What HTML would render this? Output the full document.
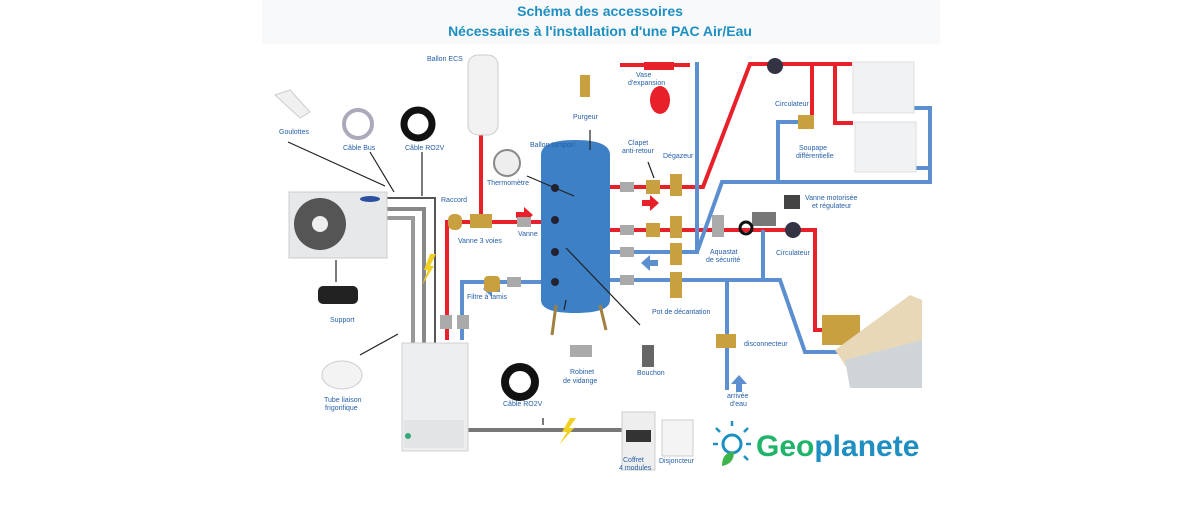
<!DOCTYPE html>
<html><head><meta charset="utf-8"><style>
html,body{margin:0;padding:0;background:#fff;}
svg{display:block;}
text{font-family:"Liberation Sans",sans-serif;}
.l{font-size:7px;fill:#2660a8;}
</style></head><body>
<svg width="1200" height="514" viewBox="0 0 1200 514" xmlns="http://www.w3.org/2000/svg">
<rect x="262" y="0" width="678" height="44" fill="#f7f9fa"/>
<text x="600" y="16" text-anchor="middle" font-size="14" font-weight="bold" fill="#1e8fc0">Schéma des accessoires</text>
<text x="600" y="36" text-anchor="middle" font-size="14" font-weight="bold" fill="#1e8fc0">Nécessaires à l'installation d'une PAC Air/Eau</text>

<!-- gray refrigerant pipes -->
<g fill="none" stroke-linejoin="miter">
<path d="M386 198 H435 V345" stroke="#555" stroke-width="2"/>
<path d="M386 209 H424 V345" stroke="#888" stroke-width="4"/>
<path d="M386 218 H413 V345" stroke="#999" stroke-width="4"/>
<path d="M467 430 H622" stroke="#777" stroke-width="4"/>
</g>
<!-- red pipes -->
<g fill="none" stroke="#e8202a" stroke-width="4">
<path d="M481 132 V222"/>
<path d="M447 340 V222 H541"/>
<path d="M610 187 H703 L750 64 H852"/>
<path d="M812 64 V122"/>
<path d="M835 64 V123 H853"/>
<path d="M610 230 H815 V330 H832"/>
<path d="M610 220 H700" stroke-width="0"/>
<path d="M620 65 H690"/>
</g>
<!-- blue pipes -->
<g fill="none" stroke="#5b8fd0" stroke-width="4">
<path d="M462 340 V282 H541"/>
<path d="M697 62 V252 H610"/>
<path d="M697 252 L722 182 H930 V108 H914"/>
<path d="M930 168 H916"/>
<path d="M778 182 V122 H800"/>
<path d="M610 280 H780 L805 352 H840"/>
<path d="M727 280 V390"/>
<path d="M763 230 V280"/>
</g>
<!-- arrows -->
<g fill="#e8202a"><path d="M516 212 h8 v-5 l9 8 l-9 8 v-5 h-8z"/><path d="M642 200 h8 v-5 l9 8 l-9 8 v-5 h-8z"/></g>
<g fill="#5b8fd0"><path d="M500 292 h-8 v5 l-9 -8 l9 -8 v5 h8z"/><path d="M658 266 h-8 v5 l-9 -8 l9 -8 v5 h8z"/><path d="M736 392 v-8 h-5 l8 -9 l8 9 h-5 v8z"/></g>

<!-- outdoor unit -->
<rect x="289" y="192" width="98" height="66" fill="#e6e8ea" stroke="#ccc"/>
<circle cx="320" cy="224" r="26" fill="#555"/><circle cx="320" cy="224" r="8" fill="#eee"/>
<ellipse cx="370" cy="199" rx="10" ry="3" fill="#2d4fa0"/>
<!-- indoor unit -->
<rect x="402" y="343" width="66" height="108" fill="#eceeef" stroke="#d0d0d0"/>
<rect x="404" y="420" width="60" height="28" fill="#e2e4e6"/>
<circle cx="408" cy="436" r="3" fill="#3a7"/>
<!-- accessories left -->
<path d="M275 95 L290 90 L310 112 L300 118z" fill="#f0f0f0" stroke="#ccc"/>
<circle cx="358" cy="124" r="14" fill="none" stroke="#aab" stroke-width="4"/>
<circle cx="418" cy="124" r="14" fill="none" stroke="#111" stroke-width="7"/>
<rect x="318" y="286" width="40" height="18" rx="5" fill="#222"/>
<ellipse cx="342" cy="375" rx="20" ry="14" fill="#f3f3f3" stroke="#ccc"/>
<circle cx="520" cy="382" r="15" fill="none" stroke="#111" stroke-width="8"/>
<!-- ECS -->
<rect x="468" y="55" width="30" height="80" rx="10" fill="#f2f2f2" stroke="#ccc"/>
<!-- tank -->
<path d="M541 155 Q541 140 575 140 Q610 140 610 155 V300 Q610 313 575 313 Q541 313 541 300z" fill="#3d80c6"/>
<path d="M556 305 L552 335 M600 305 L606 330" stroke="#a08040" stroke-width="3"/>
<circle cx="555" cy="188" r="4" fill="#223"/><circle cx="555" cy="220" r="4" fill="#223"/><circle cx="555" cy="252" r="4" fill="#223"/><circle cx="555" cy="282" r="4" fill="#223"/>
<circle cx="507" cy="163" r="13" fill="#eee" stroke="#888" stroke-width="2"/>
<!-- brass fittings -->
<g fill="#c8a040">
<rect x="580" y="75" width="10" height="22"/><rect x="470" y="214" width="22" height="14"/><rect x="448" y="214" width="14" height="16" rx="6"/>
<rect x="484" y="276" width="16" height="16" rx="4"/>
<rect x="646" y="180" width="14" height="14"/><rect x="670" y="174" width="12" height="22"/>
<rect x="646" y="223" width="14" height="14"/><rect x="670" y="216" width="12" height="22"/>
<rect x="670" y="243" width="12" height="22"/><rect x="670" y="272" width="12" height="26"/>
<rect x="716" y="334" width="20" height="14"/><rect x="798" y="115" width="16" height="14"/>
<rect x="822" y="315" width="38" height="30"/>
</g>
<g fill="#aaa">
<rect x="620" y="182" width="14" height="10"/><rect x="620" y="225" width="14" height="10"/><rect x="620" y="247" width="14" height="10"/><rect x="620" y="275" width="14" height="10"/>
<rect x="517" y="217" width="14" height="10"/><rect x="507" y="277" width="14" height="10"/>
<rect x="440" y="315" width="12" height="14"/><rect x="457" y="315" width="12" height="14"/>
<rect x="570" y="345" width="22" height="12"/><rect x="642" y="345" width="12" height="22" fill="#666"/>
<rect x="712" y="215" width="12" height="22"/><rect x="752" y="212" width="24" height="14" fill="#777"/>
<rect x="784" y="195" width="16" height="14" fill="#444"/>
</g>
<ellipse cx="660" cy="100" rx="10" ry="14" fill="#e8202a"/>
<rect x="644" y="62" width="30" height="8" fill="#e8202a"/>
<circle cx="775" cy="66" r="8" fill="#334"/><circle cx="793" cy="230" r="8" fill="#334"/>
<circle cx="746" cy="228" r="6" fill="none" stroke="#111" stroke-width="3"/>
<!-- radiators -->
<rect x="853" y="62" width="61" height="51" fill="#f1f2f3" stroke="#ddd"/>
<rect x="855" y="122" width="61" height="50" fill="#f1f2f3" stroke="#ddd"/>
<!-- floor -->
<path d="M835 350 L910 295 L922 300 L922 388 L860 388 Z" fill="#e8d8b8"/>
<path d="M845 360 L922 340 L922 388 L850 388Z" fill="#cfd4d8"/>
<!-- bolts -->
<path d="M430 254 L424 270 L428 270 L422 285 L434 266 L430 266 L436 254z" fill="#f0d020"/>
<path d="M570 418 L562 432 L567 432 L559 445 L574 428 L569 428 L576 418z" fill="#f0d020"/>
<!-- coffret -->
<rect x="622" y="412" width="33" height="58" fill="#eee" stroke="#ccc"/>
<rect x="626" y="430" width="25" height="12" fill="#333"/>
<rect x="662" y="420" width="31" height="36" fill="#f4f4f4" stroke="#ccc"/>
<!-- arrows black -->
<g stroke="#222" stroke-width="1.2">
<path d="M288 142 L385 186"/><path d="M370 152 L394 192"/><path d="M422 152 L422 196"/>
<path d="M590 130 V150"/><path d="M527 176 L574 196"/><path d="M648 162 L654 178"/>
<path d="M336 260 V282"/><path d="M360 355 L398 334"/><path d="M564 310 L566 300"/>
<path d="M640 325 L566 248"/><path d="M543 418 V425"/>
</g>
<!-- logo -->
<circle cx="732" cy="444" r="9" fill="none" stroke="#1e8fc0" stroke-width="3"/>
<g stroke="#1e8fc0" stroke-width="2.5"><path d="M732 426v-5M718 444h-5M746 444h5M720 432l-4-4M744 432l4-4M744 456l4 4"/></g>
<path d="M722 466 Q722 452 734 452 Q734 464 722 466z" fill="#3db44a"/>
<text x="756" y="456" font-size="30" font-weight="bold" fill="#20b36a">Geo<tspan fill="#1e8fc0">planete</tspan></text>
<!-- labels -->
<g class="l">
<text x="427" y="61">Ballon ECS</text>
<text x="573" y="119">Purgeur</text>
<text x="636" y="77">Vase</text><text x="628" y="85">d'expansion</text>
<text x="775" y="106">Circulateur</text>
<text x="799" y="150">Soupape</text><text x="796" y="158">différentielle</text>
<text x="279" y="134">Goulottes</text>
<text x="343" y="150">Câble Bus</text>
<text x="405" y="150">Câble RO2V</text>
<text x="530" y="147">Ballon tampon</text>
<text x="628" y="145">Clapet</text><text x="622" y="153">anti-retour</text>
<text x="663" y="158">Dégazeur</text>
<text x="487" y="185">Thermomètre</text>
<text x="441" y="202">Raccord</text>
<text x="805" y="200">Vanne motorisée</text><text x="812" y="208">et régulateur</text>
<text x="458" y="243">Vanne 3 voies</text>
<text x="518" y="236">Vanne</text>
<text x="710" y="254">Aquastat</text><text x="706" y="262">de sécurité</text>
<text x="776" y="255">Circulateur</text>
<text x="467" y="299">Filtre à tamis</text>
<text x="330" y="322">Support</text>
<text x="652" y="314">Pot de décantation</text>
<text x="744" y="346">disconnecteur</text>
<text x="570" y="374">Robinet</text><text x="563" y="383">de vidange</text>
<text x="637" y="375">Bouchon</text>
<text x="324" y="402">Tube liaison</text><text x="325" y="410">frigorifique</text>
<text x="503" y="406">Câble RO2V</text>
<text x="727" y="398">arrivée</text><text x="730" y="406">d'eau</text>
<text x="623" y="462">Coffret</text><text x="619" y="470">4 modules</text>
<text x="659" y="463">Disjoncteur</text>
</g>
</svg>
</body></html>
